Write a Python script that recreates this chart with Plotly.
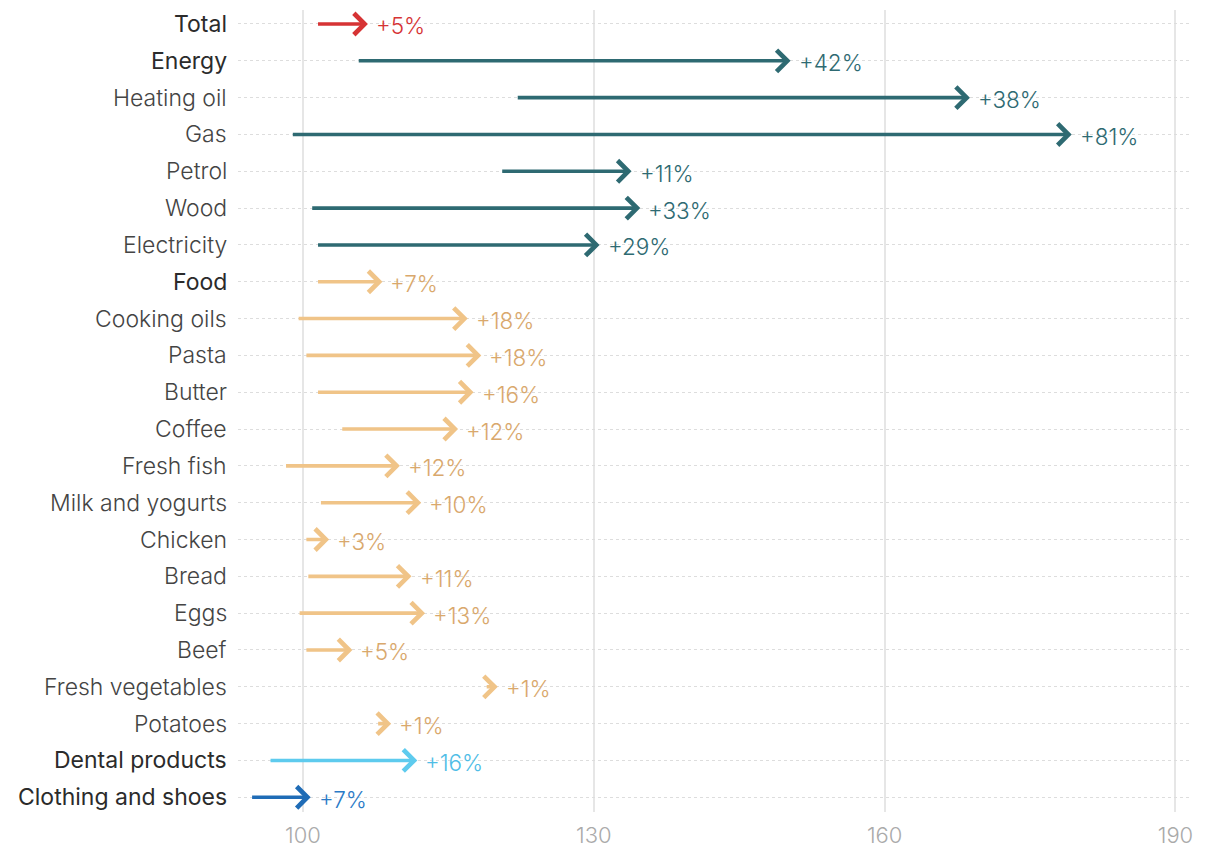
import plotly.graph_objects as go

categories = ["Total", "Energy", "Heating oil", "Gas", "Petrol", "Wood", "Electricity",
              "Food", "Cooking oils", "Pasta", "Butter", "Coffee", "Fresh fish",
              "Milk and yogurts", "Chicken", "Bread", "Eggs", "Beef", "Fresh vegetables",
              "Potatoes", "Dental products", "Clothing and shoes"]
start_values = [101.4, 105.6, 122.0, 98.8, 120.4, 100.8, 101.4,
                101.4, 99.4, 100.2, 101.4, 103.9, 98.1,
                101.7, 100.2, 100.4, 99.5, 100.2, 118.8,
                107.6, 96.5, 94.6]
end_values = [106.7, 150.3, 168.8, 179.3, 133.9, 134.8, 130.6,
              108.2, 117.0, 118.4, 117.6, 116.0, 110.0,
              112.2, 102.7, 111.2, 112.6, 105.1, 120.1,
              109.1, 111.8, 100.8]
pct_labels = ["+5%", "+42%", "+38%", "+81%", "+11%", "+33%", "+29%",
              "+7%", "+18%", "+18%", "+16%", "+12%", "+12%",
              "+10%", "+3%", "+11%", "+13%", "+5%", "+1%",
              "+1%", "+16%", "+7%"]
groups = ["total", "energy", "energy", "energy", "energy", "energy", "energy",
          "food", "food", "food", "food", "food", "food",
          "food", "food", "food", "food", "food", "food",
          "food", "dental", "clothing"]
headline = ["Total", "Energy", "Food", "Dental products", "Clothing and shoes"]
x_ticks = [100, 130, 160, 190]

arrow_colors = {"total": "#d63334", "energy": "#2e6a72", "food": "#f0c488",
                "dental": "#5ecbee", "clothing": "#1f6cb6"}
text_colors = {"total": "#d63334", "energy": "#2e6a72", "food": "#d9a86c",
               "dental": "#4fbde6", "clothing": "#2a7ac6"}

FONT = "Inter"
fig = go.Figure()

fig.add_trace(go.Scatter(x=end_values, y=list(range(len(categories))), mode="markers",
                         marker=dict(opacity=0), hoverinfo="skip", showlegend=False))

annotations = []
for i, cat in enumerate(categories):
    g = groups[i]
    annotations.append(dict(
        x=end_values[i], y=i, xref="x", yref="y",
        ax=start_values[i], ay=i, axref="x", ayref="y",
        showarrow=True, arrowhead=4, arrowsize=1.15, arrowwidth=3.6,
        arrowcolor=arrow_colors[g], text="", standoff=0, startstandoff=0,
    ))
    annotations.append(dict(
        x=end_values[i], y=i, xref="x", yref="y", showarrow=False,
        text=pct_labels[i], xanchor="left", yanchor="middle", xshift=6, yshift=-2,
        font=dict(family=FONT, size=22.5, color=text_colors[g], weight=300),
    ))
    is_head = cat in headline
    annotations.append(dict(
        x=0, y=i, xref="paper", yref="y", showarrow=False,
        text=cat, xanchor="right", yanchor="middle", xshift=-9,
        font=dict(family=FONT, size=23, color="#2b2b2b" if is_head else "#444444",
                  weight=400 if is_head else 300),
    ))

fig.update_layout(
    width=1220, height=860,
    margin=dict(l=230, r=38, t=2, b=56),
    paper_bgcolor="white", plot_bgcolor="white",
    annotations=annotations,
    showlegend=False,
    xaxis=dict(range=[93.3, 191.5], tickmode="array", tickvals=x_ticks,
               ticktext=[str(v) for v in x_ticks],
               showgrid=True, gridcolor="#e6e6e6", gridwidth=1.5,
               zeroline=False, showline=False, ticks="", ticklabelstandoff=8,
               tickfont=dict(family=FONT, size=22, color="#aaaaaa", weight=300)),
    yaxis=dict(range=[21.4, -0.38], tickmode="array", tickvals=list(range(len(categories))),
               showticklabels=False, showgrid=True, gridcolor="#dddddd", gridwidth=1,
               griddash="dot", zeroline=False, showline=False, ticks=""),
)

fig.write_html("out.html")
